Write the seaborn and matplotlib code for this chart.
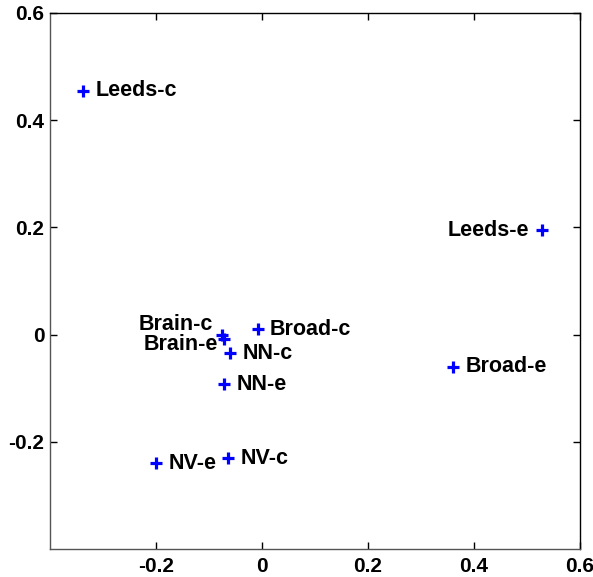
import numpy as np
import pandas as pd
import matplotlib
matplotlib.use('Agg')
import matplotlib.pyplot as plt
import seaborn as sns

# 데이터
names = ['Leeds-c', 'Leeds-e', 'Broad-e', 'Broad-c', 'Brain-c', 'Brain-e',
         'NN-c', 'NN-e', 'NV-e', 'NV-c']
xs = [-0.338, 0.529, 0.3605, -0.008, -0.076, -0.072, -0.060, -0.071, -0.200, -0.064]
ys = [0.455, 0.195, -0.060, 0.010, 0.000, -0.008, -0.035, -0.093, -0.240, -0.231]
# 라벨 오프셋 (points)
dx = [9, -9, 9, 9, -6, -4, 9, 9, 9, 9]
dy = [0, 0, 0, 0, 7, -4, 0, 0, 0, 0]
xticks = [-0.2, 0, 0.2, 0.4, 0.6]
yticks = [-0.2, 0, 0.2, 0.4, 0.6]
tick_labels = ['-0.2', '0', '0.2', '0.4', '0.6']

df = pd.DataFrame({'x': xs, 'y': ys, 'name': names, 'dx': dx, 'dy': dy})

sns.set_style('white')
plt.rcParams['font.family'] = ['Liberation Sans', 'DejaVu Sans']
plt.rcParams['font.weight'] = 'bold'
plt.rcParams['text.color'] = 'black'
plt.rcParams['xtick.color'] = 'black'
plt.rcParams['ytick.color'] = 'black'

fig = plt.figure(figsize=(5.93, 5.77), dpi=100)
ax = fig.add_axes([50/593, 28/577, 529.5/593, 536/577])

sns.scatterplot(data=df, x='x', y='y', marker='+', s=80, color='blue',
                linewidth=2.3, ax=ax, legend=False)

for _, r in df.iterrows():
    ha = 'left' if r['dx'] > 0 else 'right'
    ax.annotate(r['name'], (r['x'], r['y']), xytext=(r['dx'], r['dy']),
                textcoords='offset points', ha=ha, va='center',
                fontsize=15.5, fontweight='bold', color='black')

ax.set_xlim(-0.4, 0.6)
ax.set_ylim(-0.4, 0.6)
ax.set_xticks(xticks)
ax.set_yticks(yticks)
ax.set_xticklabels(tick_labels, fontsize=15, fontweight='bold')
ax.set_yticklabels(tick_labels, fontsize=15, fontweight='bold')
ax.set_xlabel('')
ax.set_ylabel('')
ax.tick_params(direction='in', length=5, width=1, top=True, right=True,
               bottom=True, left=True, labeltop=False, labelright=False)
ax.tick_params(axis='x', pad=6)
ax.tick_params(axis='y', pad=4)
for name, sp in ax.spines.items():
    sp.set_visible(True)
    sp.set_linewidth(1)
    sp.set_color('#555555' if name in ('left', 'bottom') else 'black')

fig.savefig('out.png', dpi=100)
